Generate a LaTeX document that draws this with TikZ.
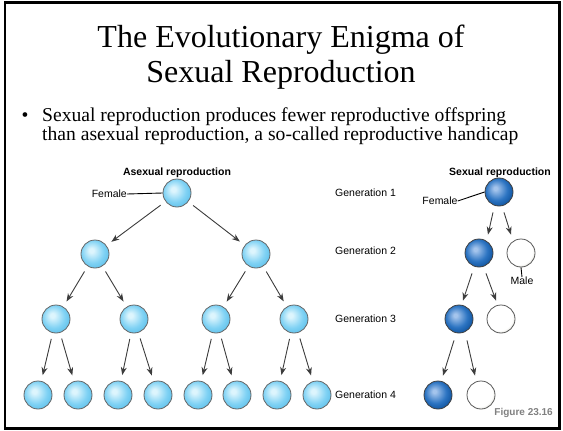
\documentclass[tikz,border=0pt]{standalone}
\usepackage{fontspec}
\setmainfont{Liberation Serif}
\newfontfamily\arial{Liberation Sans}
\usetikzlibrary{arrows.meta}
\definecolor{lbhi}{HTML}{DDF5FD}
\definecolor{lbmid}{HTML}{80D2F4}
\definecolor{lbout}{HTML}{5CBFEA}
\definecolor{bhi}{HTML}{A4C4EC}
\definecolor{bmid}{HTML}{2C74C2}
\definecolor{bout}{HTML}{0B4E98}
\definecolor{wout}{HTML}{CFCFC2}
\definecolor{arrgray}{HTML}{3C3C3C}
\definecolor{figgray}{HTML}{808080}
\pgfdeclareradialshading{lightball}{\pgfpoint{-7bp}{7bp}}{color(0bp)=(lbhi); color(4bp)=(lbhi); color(20bp)=(lbmid); color(31bp)=(lbout); color(50bp)=(lbout)}
\pgfdeclareradialshading{blueball}{\pgfpoint{-7bp}{7bp}}{color(0bp)=(bhi); color(3bp)=(bhi); color(19bp)=(bmid); color(31bp)=(bout); color(50bp)=(bout)}
\pgfdeclareradialshading{whiteball}{\pgfpoint{-7bp}{7bp}}{color(0bp)=(white); color(24bp)=(white); color(33bp)=(wout); color(50bp)=(wout)}
\tikzset{
  ball/.style={circle, minimum size=28pt, inner sep=0pt, line width=0.8pt},
  lball/.style={ball, draw=black!60, shading=lightball},
  bball/.style={ball, draw=black!75, shading=blueball},
  wball/.style={ball, draw=black!65, shading=whiteball},
  arr/.style={draw=arrgray, line width=0.9pt, -{Stealth[length=8pt,width=6pt]}, shorten <=6pt, shorten >=6pt},
  sarr/.style={draw=arrgray, line width=0.9pt, -{Stealth[length=8pt,width=6pt]}},
  lbl/.style={font=\arial\fontsize{10.5}{12}\selectfont, inner sep=0pt},
  head/.style={font=\arial\bfseries\fontsize{10.5}{12}\selectfont, inner sep=0pt},
  pointer/.style={draw=black, line width=0.9pt},
  bodytext/.style={inner sep=0pt, font=\fontsize{19.6}{20}\selectfont},
}
\begin{document}
\begin{tikzpicture}[x=1pt,y=-1pt]
\useasboundingbox (0,0) rectangle (563,431);
\draw[line width=2.6pt] (5,2.5) rectangle (559.5,428.5);
% title
\node[anchor=base, inner sep=0pt, font=\fontsize{32}{35}\selectfont] (t1) at (281,47) {The Evolutionary Enigma of};
\node[anchor=base, inner sep=0pt, font=\fontsize{32}{35}\selectfont] (t2) at (281,82) {Sexual Reproduction};
% bullet
\node[bodytext, anchor=base] (bul) at (25,121) {\textbullet};
\node[bodytext, anchor=base west] (bl1) at (42,121) {Sexual reproduction produces fewer reproductive offspring};
\node[bodytext, anchor=base west] (bl2) at (42,140) {than asexual reproduction, a so-called reproductive handicap};
% headings
\node[head] (ha) at (177,173) {Asexual reproduction};
\node[head] (hs) at (500,173) {Sexual reproduction};
% asexual tree
\node[lball] (a1) at (177,193) {};
\node[lball] (a21) at (95,254) {};
\node[lball] (a22) at (256,254) {};
\node[lball] (a31) at (56,319) {};
\node[lball] (a32) at (134,319) {};
\node[lball] (a33) at (216,319) {};
\node[lball] (a34) at (294,319) {};
\node[lball] (a41) at (38,395) {};
\node[lball] (a42) at (78,395) {};
\node[lball] (a43) at (118,395) {};
\node[lball] (a44) at (158,395) {};
\node[lball] (a45) at (198,395) {};
\node[lball] (a46) at (237,395) {};
\node[lball] (a47) at (277,395) {};
\node[lball] (a48) at (317,395) {};
\draw[arr] (a1) -- (a21);
\draw[arr] (a1) -- (a22);
\draw[arr] (a21) -- (a31);
\draw[arr] (a21) -- (a32);
\draw[arr] (a22) -- (a33);
\draw[arr] (a22) -- (a34);
\draw[arr] (a31) -- (a41);
\draw[arr] (a31) -- (a42);
\draw[arr] (a32) -- (a43);
\draw[arr] (a32) -- (a44);
\draw[arr] (a33) -- (a45);
\draw[arr] (a33) -- (a46);
\draw[arr] (a34) -- (a47);
\draw[arr] (a34) -- (a48);
\node[lbl, anchor=east] (fa) at (127,194) {Female};
\draw[pointer] (fa.east) -- (a1.west);
% generation labels
\node[lbl, anchor=west] (g1) at (335,193) {Generation 1};
\node[lbl, anchor=west] (g2) at (335,251) {Generation 2};
\node[lbl, anchor=west] (g3) at (335,319) {Generation 3};
\node[lbl, anchor=west] (g4) at (335,395) {Generation 4};
% sexual tree
\node[bball] (s1) at (499,192) {};
\node[bball] (s2) at (479,253) {};
\node[wball] (w2) at (521,253) {};
\node[bball] (s3) at (459,319) {};
\node[wball] (w3) at (501,319) {};
\node[bball] (s4) at (438,395) {};
\node[wball] (w4) at (481,395) {};
\draw[sarr] ([xshift=-6pt,yshift=-6pt]s1.south) -- ([xshift=9pt,yshift=4pt]s2.north);
\draw[sarr] ([xshift=5pt,yshift=-6pt]s1.south) -- ([xshift=-10pt,yshift=4pt]w2.north);
\draw[sarr] ([xshift=-7pt,yshift=-6pt]s2.south) -- ([xshift=4pt,yshift=4pt]s3.north);
\draw[sarr] ([xshift=7pt,yshift=-6pt]s2.south) -- ([xshift=-5pt,yshift=4pt]w3.north);
\draw[sarr] ([xshift=-5pt,yshift=-7pt]s3.south) -- ([xshift=5pt,yshift=5pt]s4.north);
\draw[sarr] ([xshift=8pt,yshift=-7pt]s3.south) -- ([xshift=-6pt,yshift=5pt]w4.north);
\node[lbl, anchor=center] (fs) at (440,201) {Female};
\draw[pointer] (fs.east) -- (s1.west);
\node[lbl, anchor=north] (ml) at (522,277) {Male};
\draw[pointer] (w2.south) -- (ml.north);
% figure label
\node[font=\arial\bfseries\fontsize{10}{12}\selectfont, text=figgray, anchor=base east, inner sep=0pt] (fig) at (553,415) {Figure 23.16};
\end{tikzpicture}
\end{document}
